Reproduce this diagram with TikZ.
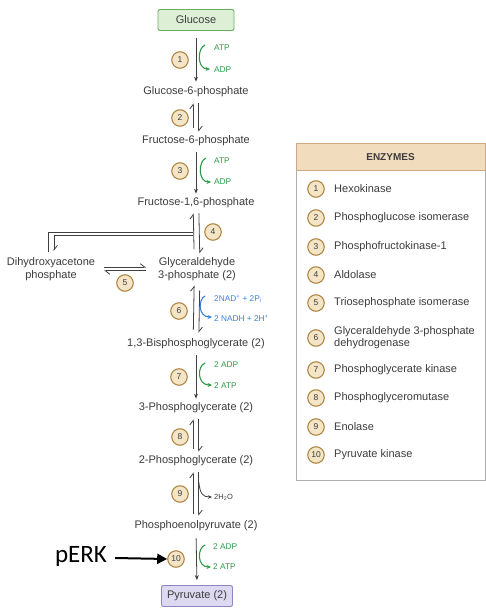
\documentclass[tikz,border=0pt]{standalone}
\usepackage{fontspec}
\setmainfont{Liberation Sans}
\newfontfamily\perkfont{Carlito}
\usetikzlibrary{arrows.meta}
\definecolor{txt}{HTML}{3C3C3C}
\definecolor{arr}{HTML}{404040}
\definecolor{grn}{HTML}{2E9A47}
\definecolor{blu}{HTML}{3A80D8}
\definecolor{circd}{HTML}{B08845}
\definecolor{circf}{HTML}{F4E5C6}
\definecolor{glcf}{HTML}{DDF0D6}
\definecolor{glcd}{HTML}{6AAE5C}
\definecolor{pyrf}{HTML}{DCD9F1}
\definecolor{pyrd}{HTML}{8B85C2}
\definecolor{hdrf}{HTML}{F2DCBE}
\definecolor{hdrd}{HTML}{CDA983}
\definecolor{boxd}{HTML}{AFAFAF}
\tikzset{
 metab/.style={text=txt, inner sep=1pt, align=center, font=\fontsize{11}{12.5}\selectfont},
 endbox/.style={rounded corners=2pt, line width=0.9pt, text=txt, minimum height=21pt, inner sep=0pt, font=\fontsize{11}{12}\selectfont},
 num/.style={circle, draw=circd, fill=circf, line width=1.1pt, minimum size=16.5pt, inner sep=0pt, text=txt, font=\fontsize{8.5}{9}\selectfont},
 fwd/.style={draw=arr, line width=0.8pt, -{Stealth[length=5pt,width=4pt]}},
 harp/.style={draw=arr, line width=0.8pt, -{Straight Barb[left,length=4.5pt,width=7pt]}},
 dbl/.style={draw=arr, line width=0.8pt},
 cof/.style={line width=1.1pt, -{Stealth[length=4.5pt,width=4pt]}},
 coft/.style={anchor=west, inner sep=0pt, font=\fontsize{8.3}{9}\selectfont},
 legt/.style={anchor=west, inner sep=0pt, text=txt, align=left, font=\fontsize{11}{12}\selectfont},
}
\begin{document}
\begin{tikzpicture}[x=1pt,y=-1pt]
\useasboundingbox (0,0) rectangle (486,610);
\fill[white] (0,0) rectangle (486,610);

% metabolites
\node[endbox, draw=glcd, fill=glcf, minimum width=76pt] (glc) at (196,20) {Glucose};
\node[metab] (g6p) at (196,92) {Glucose-6-phosphate};
\node[metab] (f6p) at (196,141) {Fructose-6-phosphate};
\node[metab] (f16) at (196,203) {Fructose-1,6-phosphate};
\node[metab] (dhap) at (51,269) {Dihydroxyacetone\\phosphate};
\node[metab] (gap) at (197,269) {Glyceraldehyde\\3-phosphate (2)};
\node[metab] (bpg) at (196,344) {1,3-Bisphosphoglycerate (2)};
\node[metab] (pg3) at (196,408) {3-Phosphoglycerate (2)};
\node[metab] (pg2) at (196,461) {2-Phosphoglycerate (2)};
\node[metab] (pep) at (196,526) {Phosphoenolpyruvate (2)};
\node[endbox, draw=pyrd, fill=pyrf, minimum width=71pt] (pyr) at (197,596) {Pyruvate (2)};

% step numbers
\node[num] (n1) at (180,60) {1};
\node[num] (n2) at (180,118) {2};
\node[num] (n3) at (180,171) {3};
\node[num] (n4) at (213,232) {4};
\node[num] (n5) at (125,283) {5};
\node[num] (n6) at (179,311) {6};
\node[num] (n7) at (179,377) {7};
\node[num] (n8) at (180,437) {8};
\node[num] (n9) at (180,494) {9};
\node[num] (n10) at (176,559) {10};

% step 1
\draw[fwd, shorten <=7pt, shorten >=4pt] (glc.south) -- (g6p.north);
\coordinate (c1a) at (205,45); \coordinate (c1b) at (210,69);
\draw[cof, draw=grn] (c1a) .. controls (197,48) and (197,69) .. (c1b);
\node[coft, text=grn] (atp1) at (214,48) {ATP};
\node[coft, text=grn] (adp1) at (214,70) {ADP};

% step 2
\draw[harp, shorten <=5pt, shorten >=3pt] ([xshift=2.8pt]g6p.south) -- ([xshift=2.8pt]f6p.north);
\draw[harp, shorten <=7pt, shorten >=5pt] ([xshift=-2.8pt]f6p.north) -- ([xshift=-2.8pt]g6p.south);

% step 3
\draw[fwd, shorten <=5pt, shorten >=3pt] (f6p.south) -- (f16.north);
\coordinate (c3a) at (206,158); \coordinate (c3b) at (211,182);
\draw[cof, draw=grn] (c3a) .. controls (198,161) and (198,182) .. (c3b);
\node[coft, text=grn] (atp3) at (214,161) {ATP};
\node[coft, text=grn] (adp3) at (214,182) {ADP};

% step 4
\draw[harp, shorten <=4pt, shorten >=3pt] ([xshift=2.8pt]f16.south) -- ([xshift=2.8pt]gap.north);
\draw[harp, shorten <=7pt, shorten >=4pt] ([xshift=-2.8pt]gap.north) -- ([xshift=-2.8pt]f16.south);
\coordinate (h4a) at (193.2,232);
\coordinate (h4b) at (193.2,235.5);
\draw[dbl] (h4a) -- (48,232) -- (48,252);
\draw[harp] (h4b) -- (54,235.5) -- (54,251);

% step 5
\draw[harp, shorten <=8pt, shorten >=11pt] ([yshift=1.8pt]dhap.east) -- ([yshift=1.8pt]gap.west);
\draw[harp, shorten <=11pt, shorten >=8pt] ([yshift=-1.8pt]gap.west) -- ([yshift=-1.8pt]dhap.east);

% step 6
\draw[harp, shorten <=9pt, shorten >=5pt] ([xshift=2.8pt]gap.south) -- ([xshift=2.8pt]bpg.north);
\draw[harp, shorten <=8pt, shorten >=4pt] ([xshift=-2.8pt]bpg.north) -- ([xshift=-2.8pt]gap.south);
\coordinate (c6a) at (205,296); \coordinate (c6b) at (212,317);
\draw[cof, draw=blu] (c6a) .. controls (198,299) and (198,317) .. (c6b);
\node[coft, text=blu] (nad) at (214,299) {2NAD\textsuperscript{+} + 2P\textsubscript{i}};
\node[coft, text=blu] (nadh) at (214,318) {2 NADH + 2H\textsuperscript{+}};

% step 7
\draw[fwd, shorten <=5pt, shorten >=3pt] (bpg.south) -- (pg3.north);
\coordinate (c7a) at (205,363); \coordinate (c7b) at (212,385);
\draw[cof, draw=grn] (c7a) .. controls (197,366) and (197,385) .. (c7b);
\node[coft, text=grn] (adp7) at (214,365) {2 ADP};
\node[coft, text=grn] (atp7) at (214,386) {2 ATP};

% step 8
\draw[harp, shorten <=5pt, shorten >=3pt] ([xshift=2.8pt]pg3.south) -- ([xshift=2.8pt]pg2.north);
\draw[harp, shorten <=6pt, shorten >=5pt] ([xshift=-2.8pt]pg2.north) -- ([xshift=-2.8pt]pg3.south);

% step 9
\draw[harp, shorten <=5pt, shorten >=4pt] ([xshift=2.8pt]pg2.south) -- ([xshift=2.8pt]pep.north);
\draw[harp, shorten <=6pt, shorten >=5pt] ([xshift=-2.8pt]pep.north) -- ([xshift=-2.8pt]pg2.south);
\coordinate (c9a) at (198.8,482); \coordinate (c9b) at (212,497);
\draw[line width=0.8pt, draw=arr, -{Stealth[length=4pt,width=3.5pt]}] (c9a) .. controls (200,494) and (203,497) .. (c9b);
\node[coft, text=txt, font=\fontsize{7.5}{8}\selectfont] (h2o) at (214,497.5) {2H\textsubscript{2}O};

% step 10
\draw[fwd, shorten <=6pt, shorten >=5pt] (pep.south) -- (pyr.north);
\coordinate (c10a) at (205,545); \coordinate (c10b) at (211,567);
\draw[cof, draw=grn] (c10a) .. controls (197,548) and (197,567) .. (c10b);
\node[coft, text=grn] (adp10) at (213,547) {2 ADP};
\node[coft, text=grn] (atp10) at (213,567) {2 ATP};

% pERK
\node[inner sep=0pt, font=\perkfont\fontsize{25}{28}\selectfont] (perk) at (81,556) {pERK};
\draw[line width=2pt, -{Triangle[length=10pt,width=10pt]}] (perk.east) ++(8,2) coordinate (pa) (pa) -- (n10.west);

% legend
\draw[boxd, line width=0.8pt] (296,143) rectangle (485,480);
\draw[hdrd, fill=hdrf, line width=0.8pt] (296,143) rectangle (485,170);
\node[font=\bfseries\fontsize{10}{11}\selectfont, text=txt] (enz) at (390.5,157) {ENZYMES};
\foreach \i/\yy/\t in {1/189/Hexokinase, 2/218/Phosphoglucose isomerase, 3/247/Phosphofructokinase-1, 4/275/Aldolase, 5/303/Triosephosphate isomerase, 6/338/{Glyceraldehyde 3-phosphate\\dehydrogenase}, 7/370/Phosphoglycerate kinase, 8/398/Phosphoglyceromutase, 9/427/Enolase, 10/455/Pyruvate kinase}{
  \node[num] (l\i) at (316,\yy) {\i};
  \node[legt] (lt\i) at (334,\yy) {\t};
}
\end{tikzpicture}
\end{document}
